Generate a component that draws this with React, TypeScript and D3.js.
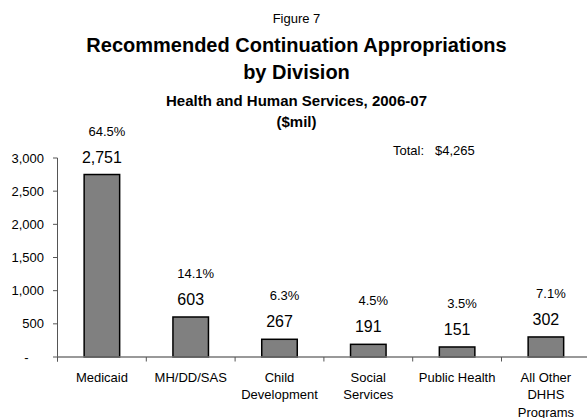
import React from "react";
import * as d3 from "d3";

const categories = ["Medicaid", "MH/DD/SAS", "Child Development", "Social Services", "Public Health", "All Other DHHS Programs"];
const categoryLines = [["Medicaid"], ["MH/DD/SAS"], ["Child", "Development"], ["Social", "Services"], ["Public Health"], ["All Other", "DHHS", "Programs"]];
const values = [2751, 603, 267, 191, 151, 302];
const percents = ["64.5%", "14.1%", "6.3%", "4.5%", "3.5%", "7.1%"];
const yTicks = [0, 500, 1000, 1500, 2000, 2500, 3000];
const totalLabel = "Total:";
const totalValue = "$4,265";

const W = 587;
const H = 418;
const FONT = "'Liberation Sans', Arial, Helvetica, sans-serif";

export default function App() {
  const x0 = 57.5;
  const step = 88.8;
  const x = d3
    .scaleBand<string>()
    .domain(categories)
    .range([x0, x0 + step * categories.length])
    .paddingInner(0.6)
    .paddingOuter(0.3);
  const y = d3.scaleLinear().domain([0, 3000]).range([357, 158]);
  const fmt = d3.format(",");
  const cx = (c: string) => (x(c) ?? 0) + x.bandwidth() / 2;

  return (
    <svg
      width={W}
      height={H}
      style={{ position: "absolute", left: 0, top: 0, background: "#fff" }}
      fontFamily={FONT}
    >
      {/* titles */}
      <text x={296.5} y={23} textAnchor="middle" fontSize={13} fill="#000">Figure 7</text>
      <text x={296.5} y={52} textAnchor="middle" fontSize={20} fontWeight="bold" fill="#000">
        Recommended Continuation Appropriations
      </text>
      <text x={296.5} y={79} textAnchor="middle" fontSize={20} fontWeight="bold" fill="#000">by Division</text>
      <text x={296.5} y={106} textAnchor="middle" fontSize={15} fontWeight="bold" fill="#000">
        Health and Human Services, 2006-07
      </text>
      <text x={296.5} y={127} textAnchor="middle" fontSize={15} fontWeight="bold" fill="#000">($mil)</text>

      {/* total */}
      <text x={393} y={155} fontSize={13} fill="#000">{totalLabel}</text>
      <text x={435} y={155} fontSize={13} fill="#000">{totalValue}</text>

      {/* y axis */}
      <line x1={x0} x2={x0} y1={y(3000)} y2={y(0) + 4.5} stroke="#555" strokeWidth={1} />
      {yTicks.map((t) => (
        <g key={t}>
          <line x1={x0 - 4.5} x2={x0} y1={y(t)} y2={y(t)} stroke="#555" strokeWidth={1} />
          <text
            x={t === 0 ? 28.5 : 44}
            y={y(t)}
            dy="0.35em"
            textAnchor="end"
            fontSize={13}
            fill="#000"
          >
            {t === 0 ? "-" : fmt(t)}
          </text>
        </g>
      ))}

      {/* bars */}
      {categories.map((c, i) => (
        <rect
          key={c}
          x={x(c)}
          y={y(values[i])}
          width={x.bandwidth()}
          height={y(0) - y(values[i])}
          fill="#808080"
          stroke="#000"
          strokeWidth={1.5}
        />
      ))}

      {/* x axis */}
      <line x1={x0} x2={W} y1={y(0)} y2={y(0)} stroke="#777" strokeWidth={1.3} />
      {categories.map((c, i) => (
        <line
          key={"t" + c}
          x1={x0 + i * step}
          x2={x0 + i * step}
          y1={y(0)}
          y2={y(0) + 4.5}
          stroke="#555"
          strokeWidth={1}
        />
      ))}

      {/* value labels */}
      {categories.map((c, i) => (
        <text key={"v" + c} x={cx(c)} y={y(values[i]) - 12} textAnchor="middle" fontSize={16} fill="#000">
          {fmt(values[i])}
        </text>
      ))}
      {categories.map((c, i) => (
        <text key={"p" + c} x={cx(c) + 5} y={y(values[i]) - 39} textAnchor="middle" fontSize={13} fill="#000">
          {percents[i]}
        </text>
      ))}

      {/* category labels */}
      {categories.map((c, i) => (
        <text key={"c" + c} x={cx(c)} y={381.5} textAnchor="middle" fontSize={13} fill="#000">
          {categoryLines[i].map((ln, j) => (
            <tspan key={j} x={cx(c)} dy={j === 0 ? 0 : 17.5}>
              {ln}
            </tspan>
          ))}
        </text>
      ))}
    </svg>
  );
}
